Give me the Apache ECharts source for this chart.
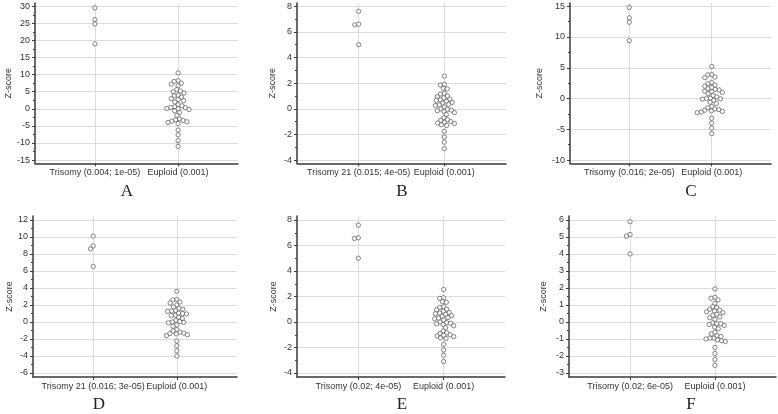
<!DOCTYPE html>
<html><head><meta charset="utf-8">
<script src="https://cdn.jsdelivr.net/npm/echarts@6/dist/echarts.min.js"></script>
<style>html,body{margin:0;padding:0;background:#fff}#c{width:778px;height:414px}</style>
</head><body><div id="c"></div>
<script>
// ---------- DATA ----------
const catsA = ['Trisomy (0.004; 1e-05)', 'Euploid (0.001)'];
const catsB = ['Trisomy 21 (0.015; 4e-05)', 'Euploid (0.001)'];
const catsC = ['Trisomy (0.016; 2e-05)', 'Euploid (0.001)'];
const catsD = ['Trisomy 21 (0.016; 3e-05)', 'Euploid (0.001)'];
const catsE = ['Trisomy (0.02; 4e-05)', 'Euploid (0.001)'];
const catsF = ['Trisomy (0.02; 6e-05)', 'Euploid (0.001)'];

const trisomyA = [29.5, 26.1, 24.8, 19.0];
const trisomyB = [7.6, 6.55, 6.6, 5.0];
const trisomyC = [14.8, 13.1, 12.4, 9.4];
const trisomyD = [10.1, 8.95, 8.6, 6.55];
const trisomyE = [7.6, 6.55, 6.6, 5.0];
const trisomyF = [5.9, 5.15, 5.05, 4.0];

const euploidA = [10.5, 8.2, 8.0, 7.5, 7.2, 6.7, 5.6, 5.2, 5.0, 4.6, 4.0, 3.8, 3.4, 3.0, 2.7, 2.4, 2.0, 1.2, 0.9, 0.6, 0.4, 0.3, 0.1, 0.0, -0.2, -0.6, -1.1, -2.0, -2.9, -3.2, -3.4, -3.6, -3.8, -4.0, -4.3, -6.2, -7.6, -9.3, -11.0];
const euploidB = [2.55, 1.9, 1.85, 1.6, 1.55, 1.2, 1.15, 1.0, 0.95, 0.85, 0.75, 0.7, 0.65, 0.6, 0.5, 0.45, 0.35, 0.3, 0.25, 0.15, 0.0, -0.05, -0.1, -0.15, -0.2, -0.3, -0.45, -0.7, -0.85, -0.9, -1.0, -1.05, -1.1, -1.15, -1.25, -1.3, -1.75, -2.2, -2.6, -3.1];
const euploidC = [5.2, 3.9, 3.85, 3.5, 3.4, 2.6, 2.4, 2.2, 2.0, 1.8, 1.6, 1.5, 1.4, 1.2, 1.1, 1.0, 0.8, 0.5, 0.25, 0.05, 0.0, -0.05, -0.1, -0.3, -0.6, -0.8, -1.3, -1.5, -1.7, -1.8, -1.9, -2.0, -2.1, -2.2, -2.3, -3.2, -4.0, -4.8, -5.7];
const euploidD = [3.6, 2.65, 2.6, 2.35, 2.25, 2.0, 1.75, 1.6, 1.5, 1.35, 1.3, 1.25, 1.05, 1.0, 0.95, 0.8, 0.75, 0.55, 0.4, 0.2, 0.05, 0.0, -0.05, -0.1, -0.35, -0.5, -0.9, -1.05, -1.2, -1.3, -1.35, -1.4, -1.5, -1.6, -2.25, -2.8, -3.4, -4.0];
const euploidE = [2.55, 1.9, 1.85, 1.6, 1.55, 1.2, 1.15, 1.0, 0.95, 0.85, 0.75, 0.7, 0.65, 0.6, 0.5, 0.45, 0.35, 0.3, 0.25, 0.15, 0.0, -0.05, -0.1, -0.15, -0.2, -0.3, -0.45, -0.7, -0.85, -0.9, -1.0, -1.05, -1.1, -1.15, -1.25, -1.3, -1.75, -2.2, -2.6, -3.1];
const euploidF = [1.95, 1.45, 1.4, 1.3, 1.1, 0.9, 0.85, 0.75, 0.7, 0.65, 0.6, 0.55, 0.45, 0.4, 0.3, 0.25, 0.15, -0.05, -0.1, -0.1, -0.15, -0.2, -0.3, -0.4, -0.6, -0.7, -0.8, -0.85, -0.95, -0.95, -1.0, -1.05, -1.1, -1.15, -1.5, -1.85, -2.2, -2.55];

const yTicksA = [-15, -10, -5, 0, 5, 10, 15, 20, 25, 30];
const yTicksB = [-4, -2, 0, 2, 4, 6, 8];
const yTicksC = [-10, -5, 0, 5, 10, 15];
const yTicksD = [-6, -4, -2, 0, 2, 4, 6, 8, 10, 12];
const yTicksE = [-4, -2, 0, 2, 4, 6, 8];
const yTicksF = [-3, -2, -1, 0, 1, 2, 3, 4, 5, 6];

const letters = ['A', 'B', 'C', 'D', 'E', 'F'];
const yName = 'Z-score';

// ---------- LAYOUT ----------
const panels = [
  {cats: catsA, tri: trisomyA, eup: euploidA, ticks: yTicksA, left: 35, width: 203, top: 3, height: 160.3, pad: 3.2, gap: 20, lx: 127, ly: 192},
  {cats: catsB, tri: trisomyB, eup: euploidB, ticks: yTicksB, left: 297, width: 209, top: 3, height: 160.3, pad: 3.2, gap: 20, lx: 402, ly: 192},
  {cats: catsC, tri: trisomyC, eup: euploidC, ticks: yTicksC, left: 570, width: 201, top: 3, height: 160.3, pad: 3.2, gap: 26, lx: 691, ly: 192},
  {cats: catsD, tri: trisomyD, eup: euploidD, ticks: yTicksD, left: 33, width: 204, top: 216, height: 161, pad: 4, gap: 18, lx: 99, ly: 405},
  {cats: catsE, tri: trisomyE, eup: euploidE, ticks: yTicksE, left: 297, width: 208, top: 216, height: 161, pad: 4, gap: 19, lx: 402, ly: 405},
  {cats: catsF, tri: trisomyF, eup: euploidF, ticks: yTicksF, left: 569, width: 207, top: 216, height: 161, pad: 4, gap: 21, lx: 691, ly: 405}
];

const XMIN = -0.72, XMAX = 1.72;
const DIAM = 4.0;
const FONT = "'Liberation Sans', Arial, sans-serif";

function swarm(values, pxPerY, diam) {
  const idx = values.map((v, i) => i).sort((a, b) => values[b] - values[a]);
  const placed = [];
  const out = new Array(values.length).fill(0);
  for (const i of idx) {
    const y = values[i] * pxPerY;
    const cands = [0];
    for (const p of placed) {
      const dy = Math.abs(p.y - y);
      if (dy < diam) {
        const dx = Math.sqrt(diam * diam - dy * dy);
        cands.push(p.x + dx, p.x - dx);
      }
    }
    cands.sort((a, b) => Math.abs(a) - Math.abs(b) || a - b);
    let best = 0;
    for (const c of cands) {
      if (placed.every(p => (p.x - c) ** 2 + (p.y - y) ** 2 >= diam * diam - 1e-6)) { best = c; break; }
    }
    placed.push({x: best, y});
    out[i] = best;
  }
  return out;
}

const grid = [], xAxis = [], yAxis = [], series = [], graphic = [];
panels.forEach((p, k) => {
  const tMin = p.ticks[0], tMax = p.ticks[p.ticks.length - 1];
  const upp = (tMax - tMin) / (p.height - 2 * p.pad);
  const yMin = tMin - p.pad * upp, yMax = tMax + p.pad * upp;
  const pxPerY = p.height / (yMax - yMin);
  const pxPerX = p.width / (XMAX - XMIN);
  const minor = [];
  for (let i = 0; i < p.ticks.length - 1; i++) minor.push((p.ticks[i] + p.ticks[i + 1]) / 2);

  grid.push({left: p.left, top: p.top, width: p.width, height: p.height, containLabel: false});
  xAxis.push({
    type: 'value', gridIndex: k, min: XMIN, max: XMAX, position: 'bottom',
    axisLine: {show: true, onZero: false, lineStyle: {color: '#3a3a3a', width: 1.5}},
    axisTick: {show: true, length: 3, customValues: [0, 1], lineStyle: {color: '#3a3a3a'}},
    axisLabel: {show: true, customValues: [0, 1], margin: 5, fontFamily: FONT, fontSize: 9, color: '#333',
      formatter: v => p.cats[Math.round(v)]},
    splitLine: {show: true, lineStyle: {color: '#dcdcdc', width: 1}}
  });
  yAxis.push({
    type: 'value', gridIndex: k, min: yMin, max: yMax, position: 'left',
    name: yName, nameLocation: 'middle', nameGap: p.gap, nameRotate: 90,
    nameTextStyle: {fontFamily: FONT, fontSize: 9, color: '#333'},
    axisLine: {show: true, onZero: false, lineStyle: {color: '#3a3a3a', width: 1.5}},
    axisTick: {show: true, length: 3, customValues: p.ticks, lineStyle: {color: '#3a3a3a'}},
    axisLabel: {show: true, customValues: p.ticks, margin: 5, fontFamily: FONT, fontSize: 9, color: '#333'},
    splitLine: {show: true, lineStyle: {color: '#dcdcdc', width: 1}}
  });
  yAxis.push({
    type: 'value', gridIndex: k, min: yMin, max: yMax, position: 'left', offset: 0,
    axisLine: {show: false, onZero: false},
    axisTick: {show: true, length: 2, customValues: minor, lineStyle: {color: '#3a3a3a'}},
    axisLabel: {show: false},
    splitLine: {show: false}
  });
  const sT = swarm(p.tri, pxPerY, DIAM);
  const sE = swarm(p.eup, pxPerY, DIAM);
  const data = p.tri.map((v, i) => [0 + sT[i] / pxPerX, v])
    .concat(p.eup.map((v, i) => [1 + sE[i] / pxPerX, v]));
  series.push({
    type: 'scatter', xAxisIndex: k, yAxisIndex: 2 * k, data,
    symbol: 'circle', symbolSize: 4.3, silent: true,
    itemStyle: {color: '#fff', borderColor: '#555', borderWidth: 0.9}
  });
  graphic.push({
    type: 'text', x: p.lx, y: p.ly,
    style: {text: letters[k], fontFamily: "'Liberation Serif', 'Times New Roman', serif", fontSize: 17,
      fill: '#222', align: 'center', verticalAlign: 'middle'}
  });
});

const chart = echarts.init(document.getElementById('c'), null, {renderer: 'canvas'});
chart.setOption({animation: false, backgroundColor: '#fff', grid, xAxis, yAxis, series, graphic});
</script>
</body></html>
